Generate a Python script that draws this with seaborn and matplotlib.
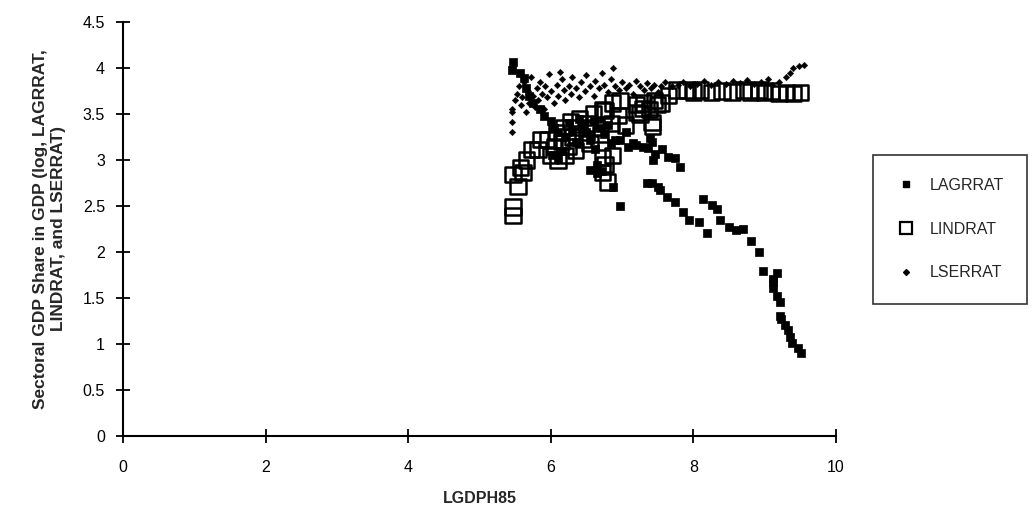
import matplotlib
matplotlib.use("Agg")
import matplotlib.pyplot as plt
import pandas as pd
import seaborn as sns
from matplotlib.lines import Line2D

# Valores (LGDPH85, log de participacion sectorial)
agr_x = [5.47, 5.46, 5.57, 5.62, 5.65, 5.70, 5.75, 5.85, 5.90, 6.00, 6.05, 6.10,
         6.02, 6.10, 6.15, 6.20, 6.25, 6.30, 6.35, 6.40, 6.45, 6.50, 6.55, 6.60,
         6.62, 6.65, 6.70, 6.72, 6.75, 6.80, 6.85, 6.90, 6.97, 6.97, 7.05, 7.08,
         7.15, 7.20, 7.29, 7.36, 7.39, 7.42, 7.46, 6.55, 6.65, 6.87, 7.35, 7.42,
         7.50, 7.43, 7.56, 7.64, 7.74, 7.81, 7.53, 7.63, 7.74, 7.86, 7.94, 8.08,
         8.13, 8.19, 8.26, 8.33, 8.37, 8.50, 8.60, 8.70, 8.81, 8.92, 8.98, 9.12,
         9.12, 9.12, 9.17, 9.17, 9.21, 9.21, 9.23, 9.28, 9.33, 9.36, 9.38, 9.47,
         9.51]
agr_y = [4.07, 3.98, 3.94, 3.89, 3.78, 3.70, 3.62, 3.55, 3.48, 3.42, 3.35, 3.30,
         3.05, 3.02, 3.10, 3.25, 3.40, 3.32, 3.20, 3.45, 3.38, 3.30, 3.22, 3.42,
         3.12, 2.95, 3.35, 2.88, 3.28, 3.38, 3.18, 3.22, 2.50, 3.22, 3.30, 3.14,
         3.18, 3.16, 3.14, 3.13, 3.24, 3.19, 3.07, 2.89, 2.86, 2.71, 2.75, 2.75,
         2.71, 3.00, 3.12, 3.03, 3.02, 2.92, 2.67, 2.60, 2.54, 2.43, 2.35, 2.33,
         2.58, 2.21, 2.51, 2.47, 2.35, 2.27, 2.24, 2.25, 2.12, 2.00, 1.79, 1.71,
         1.67, 1.61, 1.77, 1.52, 1.46, 1.30, 1.27, 1.21, 1.15, 1.08, 1.01, 0.96,
         0.90]

ind_x = [5.47, 5.47, 5.47, 5.54, 5.61, 5.57, 5.66, 5.73, 5.82, 5.85, 5.96, 6.00,
         6.05, 6.08, 6.10, 6.15, 6.18, 6.20, 6.25, 6.28, 6.30, 6.35, 6.38, 6.40,
         6.45, 6.50, 6.52, 6.55, 6.60, 6.62, 6.70, 6.72, 6.73, 6.76, 6.73, 6.79,
         6.85, 6.87, 6.87, 6.97, 6.95, 7.05, 6.76, 7.21, 7.29, 7.42, 7.43, 7.20,
         7.25, 7.30, 7.38, 7.45, 7.50, 7.55, 7.65, 7.77, 7.91, 8.00, 8.10, 8.25,
         8.40, 8.54, 8.70, 8.80, 8.92, 9.00, 9.10, 9.20, 9.30, 9.40, 9.50]
ind_y = [2.40, 2.49, 2.84, 2.71, 2.86, 2.92, 3.00, 3.11, 3.11, 3.22, 3.22, 3.05,
         3.15, 3.30, 3.00, 3.20, 3.35, 3.05, 3.15, 3.42, 3.25, 3.10, 3.35, 3.45,
         3.22, 3.30, 3.40, 3.18, 3.50, 3.35, 3.28, 3.55, 3.03, 2.95, 2.86, 2.76,
         3.40, 3.05, 3.62, 3.65, 3.48, 3.38, 3.54, 3.52, 3.56, 3.41, 3.36, 3.60,
         3.50, 3.62, 3.55, 3.65, 3.60, 3.62, 3.70, 3.76, 3.76, 3.74, 3.76, 3.73,
         3.75, 3.74, 3.76, 3.74, 3.76, 3.73, 3.75, 3.72, 3.73, 3.72, 3.73]

ser_x = [5.45, 5.46, 5.46, 5.46, 5.50, 5.52, 5.55, 5.58, 5.60, 5.62, 5.65, 5.68,
         5.70, 5.72, 5.75, 5.78, 5.80, 5.82, 5.85, 5.88, 5.90, 5.92, 5.95, 5.98,
         6.00, 6.05, 6.08, 6.10, 6.13, 6.15, 6.18, 6.20, 6.25, 6.28, 6.30, 6.35,
         6.40, 6.42, 6.48, 6.50, 6.55, 6.60, 6.62, 6.68, 6.72, 6.75, 6.80, 6.85,
         6.87, 6.90, 6.95, 7.00, 7.05, 7.10, 7.15, 7.20, 7.25, 7.30, 7.35, 7.40,
         7.45, 7.50, 7.55, 7.60, 7.70, 7.78, 7.85, 7.95, 8.05, 8.15, 8.25, 8.35,
         8.45, 8.55, 8.65, 8.75, 8.85, 8.95, 9.05, 9.10, 9.20, 9.30, 9.35, 9.40,
         9.48, 9.55]
ser_y = [3.55, 3.52, 3.41, 3.30, 3.65, 3.72, 3.80, 3.60, 3.68, 3.85, 3.52, 3.75,
         3.62, 3.90, 3.70, 3.58, 3.78, 3.65, 3.85, 3.72, 3.55, 3.80, 3.68, 3.93,
         3.75, 3.62, 3.82, 3.70, 3.96, 3.88, 3.76, 3.65, 3.80, 3.72, 3.90, 3.78,
         3.68, 3.85, 3.75, 3.92, 3.80, 3.70, 3.86, 3.78, 3.95, 3.82, 3.74, 3.88,
         4.00, 3.80, 3.76, 3.85, 3.78, 3.82, 3.72, 3.86, 3.80, 3.76, 3.84, 3.78,
         3.82, 3.74, 3.80, 3.85, 3.80, 3.82, 3.85, 3.80, 3.83, 3.86, 3.82, 3.85,
         3.83, 3.86, 3.84, 3.87, 3.83, 3.85, 3.88, 3.82, 3.85, 3.90, 3.95, 4.00,
         4.02, 4.03]

series_names = ["LAGRRAT", "LINDRAT", "LSERRAT"]
y_ticks = [0, 0.5, 1, 1.5, 2, 2.5, 3, 3.5, 4, 4.5]
x_ticks = [0, 2, 4, 6, 8, 10]

sns.set_style("white")
plt.rcParams["font.family"] = ["Liberation Sans", "DejaVu Sans"]

fig = plt.figure(figsize=(10.36, 5.11), dpi=100)
ax = fig.add_axes([0.1187, 0.1468, 0.6883, 0.8102])

# Serie agricola: cuadrados rellenos
sns.scatterplot(x=agr_x, y=agr_y, marker="s", s=38, color="black",
                edgecolor="black", linewidth=0.5, ax=ax)
# Serie industrial: cuadrados vacios
sns.scatterplot(x=ind_x, y=ind_y, marker="s", s=120, color="black",
                linewidth=1.8, ax=ax)
ax.collections[-1].set_facecolor("none")
ax.collections[-1].set_edgecolor("black")
# Serie servicios: rombos pequenos
sns.scatterplot(x=ser_x, y=ser_y, marker="D", s=11, color="black",
                edgecolor="black", linewidth=0.3, ax=ax)

ax.set_xlim(0, 10)
ax.set_ylim(0, 4.5)
ax.set_xticks(x_ticks)
ax.set_xticklabels([str(t) for t in x_ticks])
ax.set_yticks(y_ticks)
ax.set_yticklabels([f"{t:g}" for t in y_ticks])
ax.tick_params(bottom=True, left=True, direction="inout", length=10, width=1.3,
               colors="black", labelsize=11.5, pad=8)
ax.tick_params(axis="x", pad=12)
for side in ["top", "right"]:
    ax.spines[side].set_visible(False)
for side in ["left", "bottom"]:
    ax.spines[side].set_color("black")
    ax.spines[side].set_linewidth(1.5)

ax.set_xlabel("LGDPH85", fontsize=11.5, fontweight="bold", labelpad=12)
ax.set_ylabel("Sectoral GDP Share in GDP (log, LAGRRAT,\nLINDRAT, and LSERRAT)",
              fontsize=12.5, fontweight="bold", labelpad=12,
              family=["Liberation Sans Narrow", "Liberation Sans", "DejaVu Sans"])

handles = [
    Line2D([], [], linestyle="none", marker="s", markersize=5,
           markerfacecolor="black", markeredgecolor="black"),
    Line2D([], [], linestyle="none", marker="s", markersize=8,
           markerfacecolor="none", markeredgecolor="black", markeredgewidth=1.6),
    Line2D([], [], linestyle="none", marker="D", markersize=3,
           markerfacecolor="black", markeredgecolor="black"),
]
leg = fig.legend(handles, series_names, loc="upper left",
                 bbox_to_anchor=(0.8427, 0.697), bbox_transform=fig.transFigure,
                 frameon=True, fancybox=False, edgecolor="black", fontsize=11.5,
                 labelspacing=1.8, borderpad=1.45, handletextpad=0.9,
                 handlelength=1.2, borderaxespad=0)
leg.get_frame().set_linewidth(1.2)

fig.savefig("out.png", dpi=100)
